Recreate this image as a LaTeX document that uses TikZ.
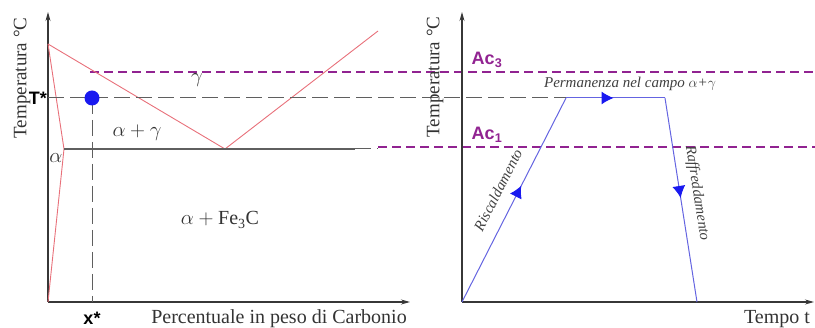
\documentclass[tikz,border=0pt]{standalone}
\usepackage{fontspec}
\setmainfont{Liberation Serif}
\setsansfont{Liberation Sans}
\usepackage{tikz}
\usetikzlibrary{arrows.meta, decorations.markings}
\definecolor{myred}{RGB}{232,112,122}
\definecolor{mypurple}{RGB}{145,35,145}
\definecolor{mygray}{RGB}{95,95,95}
\definecolor{myaxis}{RGB}{55,55,55}
\definecolor{myblue}{RGB}{100,100,225}
\definecolor{mydeepblue}{RGB}{25,25,240}
\tikzset{
  axis/.style={-{Stealth[length=9pt,width=5pt]}, line width=1.1pt, color=myaxis},
  phase/.style={color=myred, line width=0.9pt},
  eutline/.style={color=mygray, line width=1.1pt},
  crit/.style={color=mypurple, line width=1.3pt, dash pattern=on 9pt off 5pt},
  guide/.style={color=mygray, line width=1pt, dash pattern=on 16pt off 6pt},
  heatline/.style={color=myblue, line width=1pt},
  midarrow/.style={postaction={decorate}, decoration={markings,
    mark=at position #1 with {\arrow{Latex[length=12pt,width=13pt,color=mydeepblue]}}}}
}

\begin{document}
\begin{tikzpicture}[x=1pt, y=1pt,
  lbl/.style={font=\fontsize{20}{24}\selectfont, text=black!80},
  ylbl/.style={font=\fontsize{19}{23}\selectfont, text=black!80, rotate=90},
  tag/.style={font=\fontsize{18}{21}\selectfont\sffamily\bfseries, inner sep=1pt},
  note/.style={font=\fontsize{15}{18}\selectfont\itshape, text=black!75},
  bluedot/.style={circle, fill=mydeepblue, minimum size=15pt, inner sep=0pt}]

  \useasboundingbox (0,0) rectangle (815,328);

  % left: Fe-C diagram
  \coordinate (o1) at (48,26);
  \coordinate (y1) at (48,316);
  \coordinate (x1) at (410,26);
  \coordinate (top) at (48,284);
  \coordinate (eut) at (225,179);
  \coordinate (a3) at (378,297);
  \coordinate (pa) at (64,179);
  \coordinate (eutend) at (355,179);
  \coordinate (eutdash) at (378,179);

  % right: heat treatment cycle
  \coordinate (o2) at (462,26);
  \coordinate (y2) at (462,316);
  \coordinate (x2) at (814,26);
  \coordinate (h1) at (566,230);
  \coordinate (h2) at (665,230);
  \coordinate (cool) at (697,26);

  % critical temperatures
  \coordinate (ac3a) at (90,256);
  \coordinate (ac3b) at (815,256);
  \coordinate (ac1a) at (378,181);
  \coordinate (ac1b) at (815,181);

  \draw[crit] (ac3a) -- (ac3b);
  \draw[crit] (ac1a) -- (ac1b);

  \draw[axis] (o1) -- (y1);
  \draw[axis] (o1) -- (x1);
  \draw[phase] (top) -- (eut) -- (a3);
  \draw[phase] (top) -- (pa) -- (o1);
  \draw[eutline] (pa) -- (eutend);
  \draw[guide] (eutend) -- (eutdash);

  \node[tag, anchor=east] (tstar) at (48,230) {T*};
  \node[tag] (xstar) at (92,10) {x*};
  \draw[guide] (tstar.east) -- (h1);
  \draw[guide] (92,230) -- (92,26);
  \node[bluedot] (xs) at (92,230) {};

  \node[lbl] (gam) at (197,248) {$\gamma$};
  \node[lbl] (ag) at (137,195) {$\alpha+\gamma$};
  \node[lbl] (al) at (56,170) {$\alpha$};
  \node[lbl] (afc) at (220,108) {$\alpha+{}$Fe\textsubscript{3}C};
  \node[lbl, anchor=base] (xlab) at (279,4) {Percentuale in peso di Carbonio};
  \node[ylbl] (ylab1) at (22,250) {Temperatura °C};

  \draw[axis] (o2) -- (y2);
  \draw[axis] (o2) -- (x2);
  \draw[heatline, midarrow=0.57] (o2) -- (h1);
  \draw[heatline, midarrow=0.48] (h1) -- (h2);
  \draw[heatline, midarrow=0.49] (h2) -- (cool);

  \node[ylbl] (ylab2) at (435,251) {Temperatura °C};
  \node[tag, text=mypurple] (ac3) at (487,268) {Ac\textsubscript{3}};
  \node[tag, text=mypurple] (ac1) at (487,193) {Ac\textsubscript{1}};
  \node[note] (perm) at (630,244) {Permanenza nel campo $\alpha$+$\gamma$};
  \node[note, rotate=63] (heat) at (498,138) {Riscaldamento};
  \node[note, rotate=-81] (coolt) at (697,135) {Raffreddamento};
  \node[lbl, anchor=base] (tlab) at (777,4) {Tempo t};

\end{tikzpicture}
\end{document}
